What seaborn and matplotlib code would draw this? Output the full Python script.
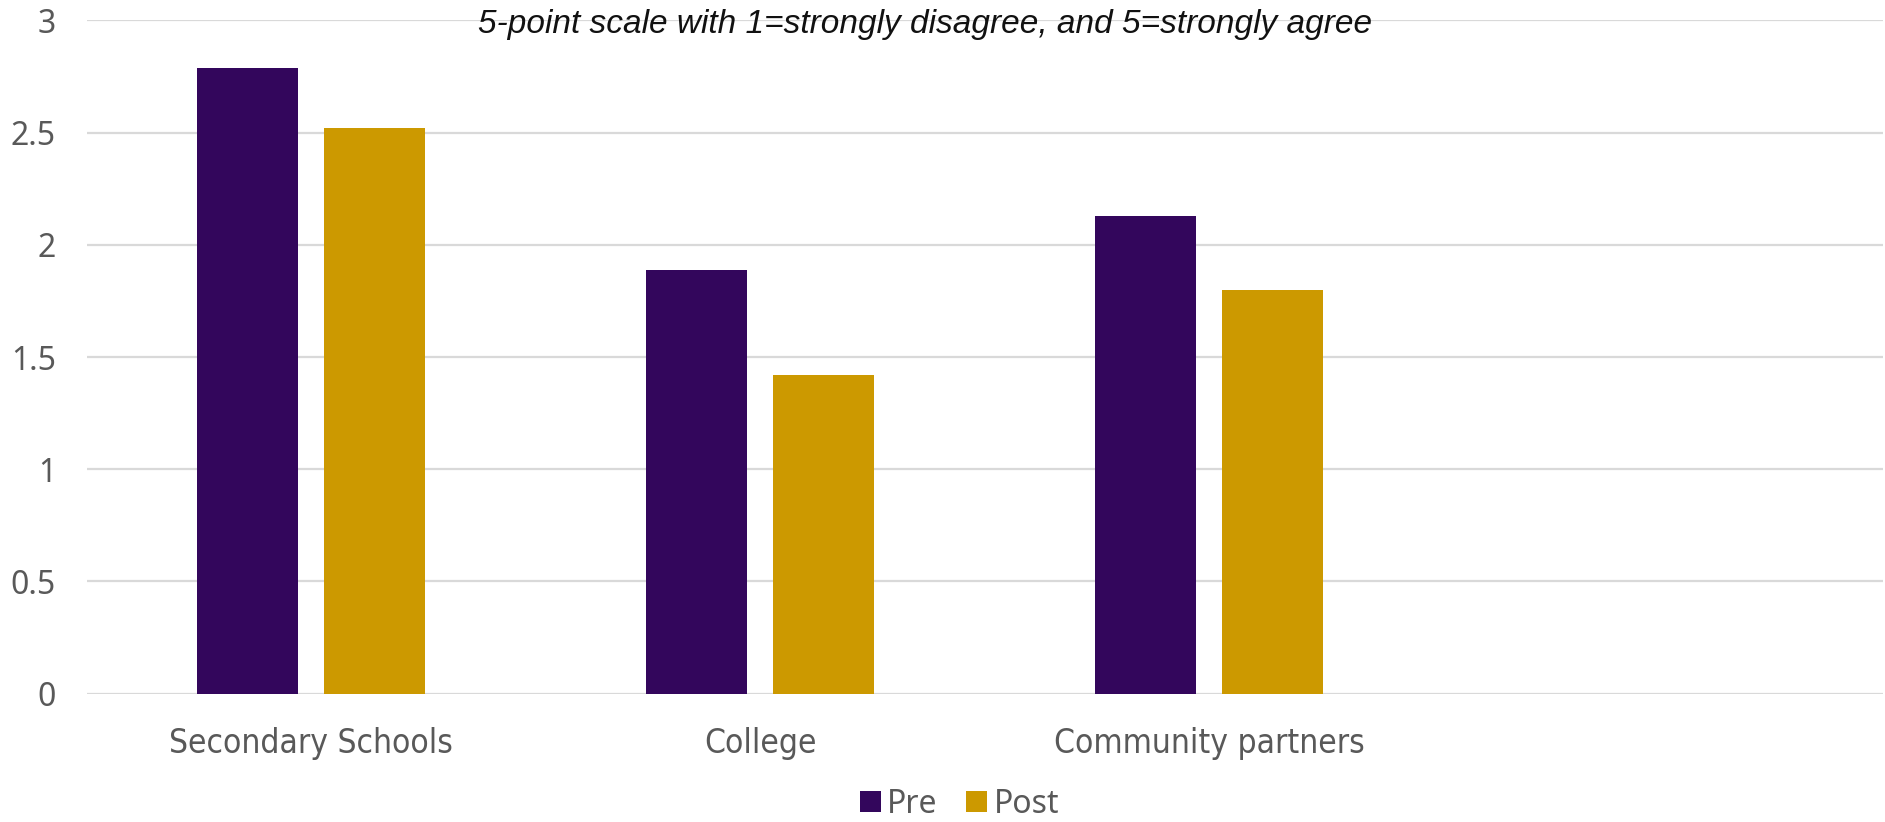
import matplotlib
matplotlib.use("Agg")
import matplotlib.pyplot as plt
import seaborn as sns
import pandas as pd
from matplotlib.patches import Patch

# Survey averages before and after the programme
categories = ["Secondary Schools", "College", "Community partners"]
pre = [2.79, 1.89, 2.13]
post = [2.52, 1.42, 1.80]
series = ["Pre", "Post"]
colors = ["#33065C", "#CC9900"]
y_ticks = [0, 0.5, 1, 1.5, 2, 2.5, 3]
y_tick_labels = ["0", "0.5", "1", "1.5", "2", "2.5", "3"]
subtitle = "5-point scale with 1=strongly disagree, and 5=strongly agree"

df = pd.DataFrame({
    "category": categories * 2,
    "phase": [series[0]] * len(pre) + [series[1]] * len(post),
    "score": pre + post,
})

sns.set_theme(style="white")
plt.rcParams["font.family"] = ["Noto Sans", "DejaVu Sans"]

fig = plt.figure(figsize=(18.85, 8.22), dpi=100)
ax = fig.add_axes([0.0459, 0.1561, 0.953, 0.8191])

sns.barplot(
    data=df, x="category", y="score", hue="phase",
    order=categories, hue_order=series, palette=colors,
    width=0.565, gap=0.204, saturation=1, errorbar=None,
    linewidth=0, legend=False, ax=ax,
)

# room for a fourth, empty category slot on the right
ax.set_xlim(-0.5, 3.5)
ax.set_ylim(0, 3)
ax.set_yticks(y_ticks)
ax.set_yticklabels(y_tick_labels, fontsize=23, color="#595959")
ax.set_xlabel("")
ax.set_ylabel("")
ax.set_xticks(range(len(categories)))
ax.set_xticklabels(categories, fontsize=24, color="#595959",
                   family=["DejaVu Sans"], fontstretch="condensed")
ax.tick_params(axis="both", length=0)
ax.tick_params(axis="y", pad=22)
ax.tick_params(axis="x", pad=24)

ax.yaxis.grid(True, color="#D9D9D9", linewidth=1.6)
ax.set_axisbelow(True)
for s in ax.spines.values():
    s.set_visible(False)

fig.text(0.491, 1 - 24 / 822, subtitle, ha="center", va="center",
         fontsize=24, style="italic", color="#111111",
         family=["Liberation Sans", "DejaVu Sans"])

handles = [Patch(facecolor=c, edgecolor="none", label=l) for c, l in zip(colors, series)]
fig.legend(handles=handles, loc="center", bbox_to_anchor=(0.509, 1 - 804 / 822),
           ncol=2, frameon=False, fontsize=23, handlelength=0.65, handleheight=0.65,
           handletextpad=0.2, columnspacing=0.9, labelcolor="#595959")

fig.savefig("out.png", dpi=100)
